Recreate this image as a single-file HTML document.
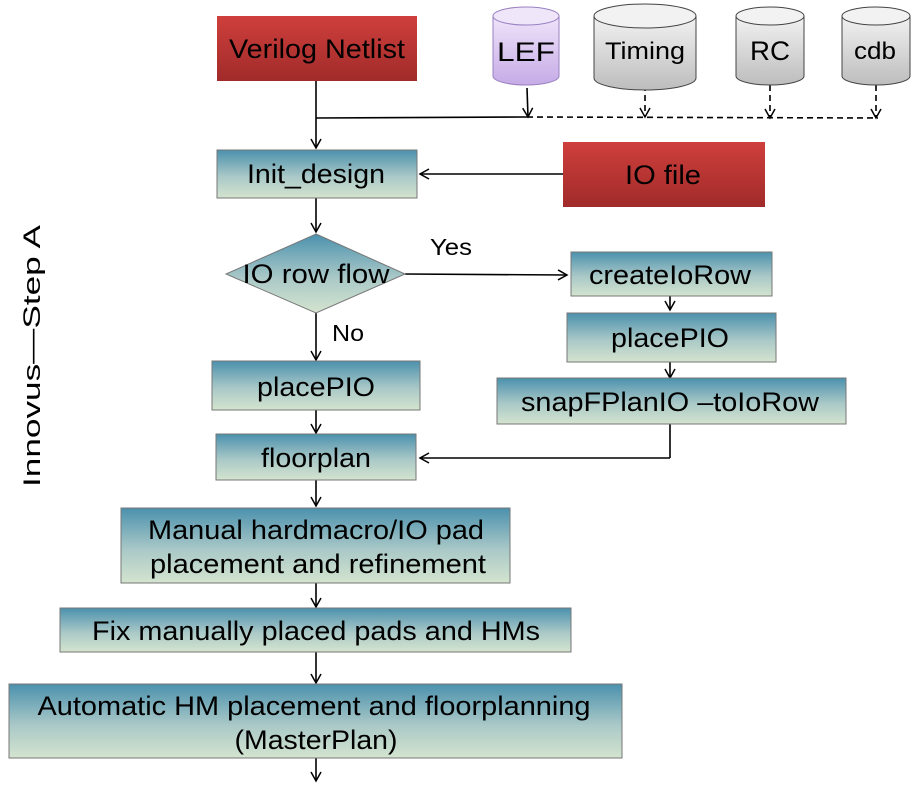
<!DOCTYPE html>
<html><head><meta charset="utf-8"><style>body{margin:0;background:#fff}svg{display:block}text{font-family:"Liberation Sans",sans-serif;fill:#000}</style></head><body>
<svg width="914" height="792" viewBox="0 0 914 792" xmlns="http://www.w3.org/2000/svg">
<defs>
<linearGradient id="b" x1="0" y1="0" x2="0" y2="1"><stop offset="0" stop-color="#4b91ad"/><stop offset="0.55" stop-color="#a9c8c7"/><stop offset="1" stop-color="#d4e4cf"/></linearGradient>
<linearGradient id="r" x1="0" y1="0" x2="0" y2="1"><stop offset="0" stop-color="#cf3f3c"/><stop offset="1" stop-color="#a02b2a"/></linearGradient>
<linearGradient id="g" x1="0" y1="0" x2="0" y2="1"><stop offset="0" stop-color="#f2f2f2"/><stop offset="1" stop-color="#bdbdbd"/></linearGradient>
<linearGradient id="p" x1="0" y1="0" x2="0" y2="1"><stop offset="0" stop-color="#efe4fa"/><stop offset="1" stop-color="#c6abe6"/></linearGradient>
<marker id="a" markerWidth="12" markerHeight="12" refX="10" refY="6" orient="auto" markerUnits="userSpaceOnUse"><path d="M1,1 L10,6 L1,11" fill="none" stroke="#000" stroke-width="1.5"/></marker>
</defs>
<g stroke="#000" stroke-width="1.6" fill="none">
<line x1="316" y1="81" x2="316" y2="148" marker-end="url(#a)"/>
<line x1="316" y1="118" x2="527" y2="117"/>
<line x1="527" y1="117" x2="878" y2="118" stroke-dasharray="6,4"/>
<line x1="527" y1="88" x2="528" y2="117" marker-end="url(#a)"/>
<line x1="645" y1="85" x2="645" y2="117" stroke-dasharray="6,4" marker-end="url(#a)"/>
<line x1="770" y1="85" x2="770" y2="118" stroke-dasharray="6,4" marker-end="url(#a)"/>
<line x1="876" y1="85" x2="876" y2="118" stroke-dasharray="6,4" marker-end="url(#a)"/>
<line x1="563" y1="174" x2="420" y2="174" marker-end="url(#a)"/>
<line x1="316" y1="198" x2="316" y2="232" marker-end="url(#a)"/>
<line x1="405" y1="274" x2="567" y2="275" marker-end="url(#a)"/>
<line x1="316" y1="313" x2="316" y2="360" marker-end="url(#a)"/>
<line x1="670" y1="295" x2="670" y2="310" marker-end="url(#a)"/>
<line x1="670" y1="358" x2="670" y2="378" marker-end="url(#a)"/>
<line x1="670" y1="424" x2="670" y2="458" />
<line x1="670" y1="458" x2="420" y2="458" marker-end="url(#a)"/>
<line x1="316" y1="410" x2="316" y2="433" marker-end="url(#a)"/>
<line x1="316" y1="480" x2="316" y2="506" marker-end="url(#a)"/>
<line x1="316" y1="583" x2="316" y2="607" marker-end="url(#a)"/>
<line x1="316" y1="652" x2="316" y2="683" marker-end="url(#a)"/>
<line x1="316" y1="758" x2="316" y2="781" marker-end="url(#a)"/>
</g>
<rect x="217" y="16" width="200" height="65" fill="url(#r)"/>
<rect x="563" y="142" width="202" height="65" fill="url(#r)"/>
<g stroke="#777" stroke-width="1">
<path d="M493,16 v60 a33,9 0 0 0 66,0 v-60" fill="url(#p)" stroke="#9a80c0"/>
<ellipse cx="526" cy="16" rx="33" ry="9" fill="#efe6fa" stroke="#9a80c0"/>
<path d="M594,16 v62 a51,12 0 0 0 102,0 v-62" fill="url(#g)" stroke="#444"/>
<ellipse cx="645" cy="16" rx="51" ry="12" fill="#f2f2f2" stroke="#444"/>
<path d="M736,16 v60 a34,9 0 0 0 68,0 v-60" fill="url(#g)" stroke="#444"/>
<ellipse cx="770" cy="16" rx="34" ry="9" fill="#f2f2f2" stroke="#444"/>
<path d="M842,16 v60 a34,9 0 0 0 68,0 v-60" fill="url(#g)" stroke="#444"/>
<ellipse cx="876" cy="16" rx="34" ry="9" fill="#f2f2f2" stroke="#444"/>
<rect x="217" y="150" width="200" height="48" fill="url(#b)"/>
<path d="M316,234 L405,274 L316,313 L226,274 Z" fill="url(#b)"/>
<rect x="571" y="252" width="201" height="44" fill="url(#b)"/>
<rect x="567" y="313" width="209" height="49" fill="url(#b)"/>
<rect x="497" y="378" width="349" height="46" fill="url(#b)"/>
<rect x="212" y="361" width="208" height="49" fill="url(#b)"/>
<rect x="216" y="434" width="200" height="46" fill="url(#b)"/>
<rect x="121" y="508" width="389" height="75" fill="url(#b)"/>
<rect x="60" y="608" width="511" height="44" fill="url(#b)"/>
<rect x="9" y="684" width="613" height="74" fill="url(#b)"/>
</g>
<g font-size="27" text-anchor="middle">
<text x="317" y="58" textLength="176" lengthAdjust="spacingAndGlyphs">Verilog Netlist</text>
<text x="526" y="61" textLength="58" lengthAdjust="spacingAndGlyphs">LEF</text>
<text x="645" y="59" font-size="24" textLength="80" lengthAdjust="spacingAndGlyphs">Timing</text>
<text x="770" y="60" textLength="40" lengthAdjust="spacingAndGlyphs">RC</text>
<text x="875" y="59" font-size="24" textLength="42" lengthAdjust="spacingAndGlyphs">cdb</text>
<text x="663" y="184" textLength="76" lengthAdjust="spacingAndGlyphs">IO file</text>
<text x="316" y="183" textLength="138" lengthAdjust="spacingAndGlyphs">Init_design</text>
<text x="316" y="283" textLength="147" lengthAdjust="spacingAndGlyphs">IO row flow</text>
<text x="670" y="284" textLength="162" lengthAdjust="spacingAndGlyphs">createIoRow</text>
<text x="670" y="347" textLength="118" lengthAdjust="spacingAndGlyphs">placePIO</text>
<text x="670" y="411" textLength="298" lengthAdjust="spacingAndGlyphs">snapFPlanIO –toIoRow</text>
<text x="316" y="396" textLength="118" lengthAdjust="spacingAndGlyphs">placePIO</text>
<text x="316" y="467" textLength="110" lengthAdjust="spacingAndGlyphs">floorplan</text>
<text x="316" y="539" textLength="336" lengthAdjust="spacingAndGlyphs">Manual hardmacro/IO pad</text>
<text x="318" y="573" textLength="336" lengthAdjust="spacingAndGlyphs">placement and refinement</text>
<text x="316" y="640" textLength="448" lengthAdjust="spacingAndGlyphs">Fix manually placed pads and HMs</text>
<text x="314" y="715" textLength="553" lengthAdjust="spacingAndGlyphs">Automatic HM placement and floorplanning</text>
<text x="316" y="749" textLength="163" lengthAdjust="spacingAndGlyphs">(MasterPlan)</text>
<text x="451" y="255" font-size="23" textLength="42" lengthAdjust="spacingAndGlyphs">Yes</text>
<text x="348" y="341" font-size="23" textLength="32" lengthAdjust="spacingAndGlyphs">No</text>
</g>
<text transform="translate(40,356) rotate(-90)" font-size="24" text-anchor="middle" textLength="262" lengthAdjust="spacingAndGlyphs">Innovus—Step A</text>
</svg>
</body></html>
